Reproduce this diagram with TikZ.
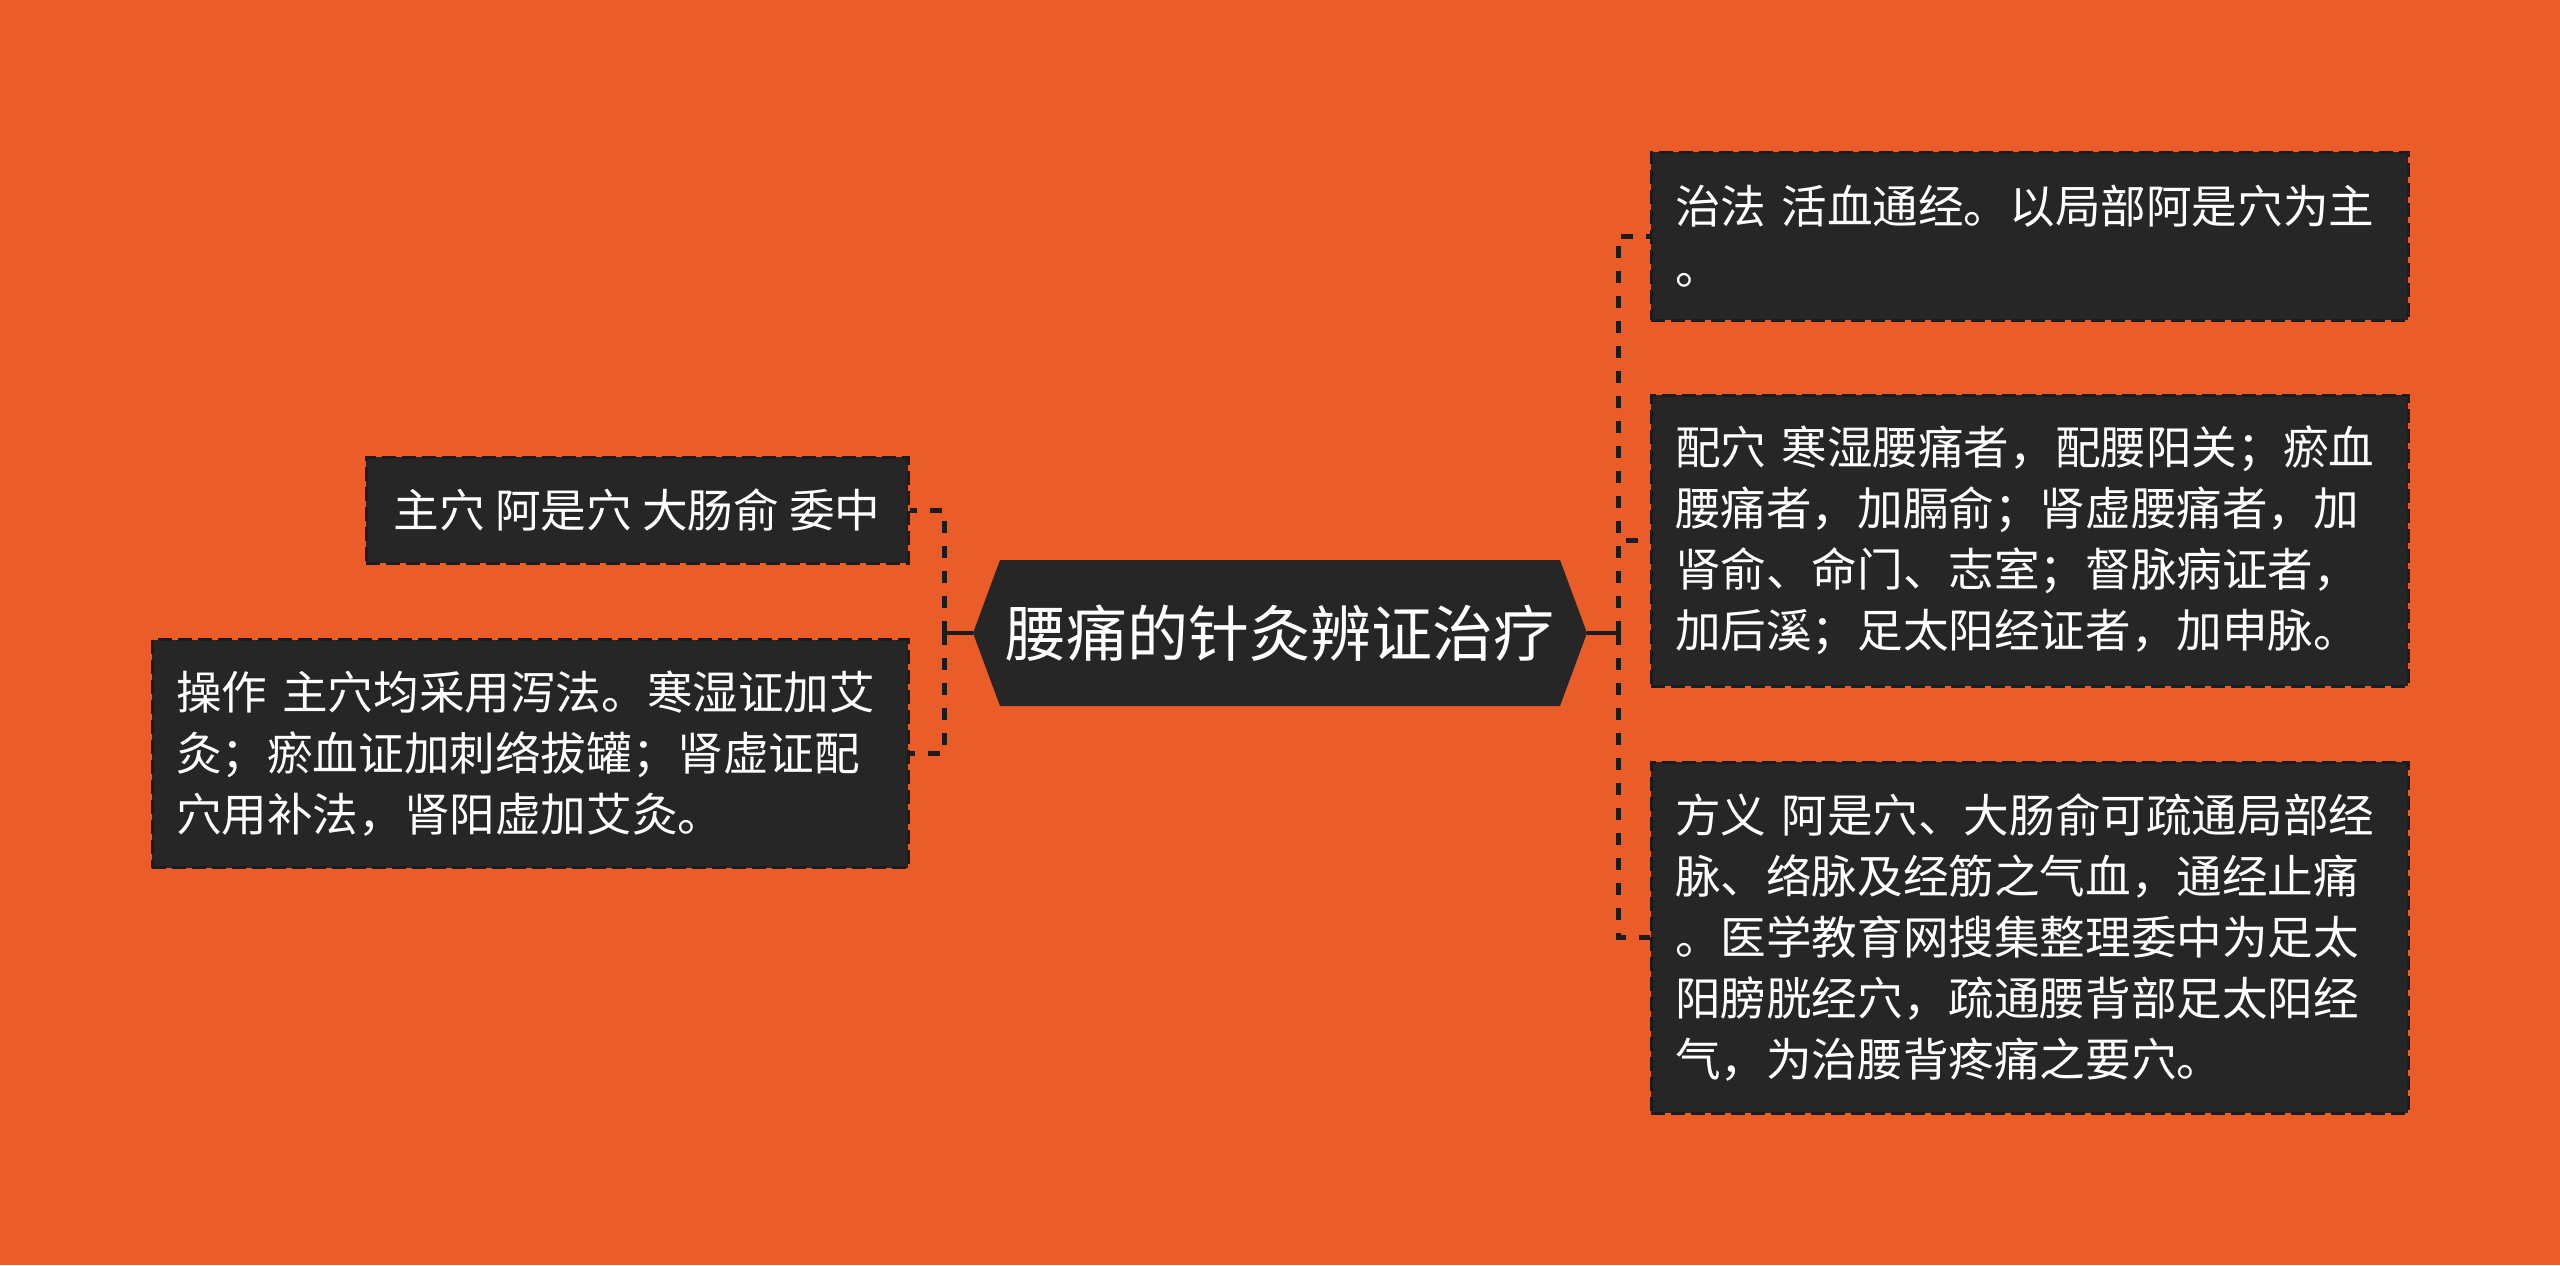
\documentclass[tikz,border=0pt]{standalone}
\usepackage{fontspec}
\setmainfont{Noto Sans CJK SC}
\definecolor{bg}{RGB}{234,92,40}
\definecolor{dk}{RGB}{38,38,38}
\definecolor{ln}{RGB}{28,28,28}
\begin{document}
\begin{tikzpicture}[x=0.5pt,y=-0.5pt,
  box/.style={fill=dk, draw=ln, line width=1.5pt, dash pattern=on 7pt off 3pt,
    text=white, font=\fontsize{22.8pt}{30.5pt}\selectfont, inner xsep=12pt, inner ysep=0pt},
  rbox/.style={box, align=left, minimum width=378.5pt, text width=354.5pt},
  conn/.style={draw=ln, line width=2.5pt, dash pattern=on 6pt off 6.5pt},
  stub/.style={draw=ln, line width=2pt}]
\useasboundingbox (0,0) rectangle (2560,1265);
\fill[bg] (0,0) rectangle (2560,1265);
% central hexagon
\fill[dk] (973,633) -- (1000,560) -- (1560,560) -- (1587,633) -- (1560,706) -- (1000,706) -- cycle;
\node[text=white, font=\fontsize{30.5pt}{36pt}\selectfont, minimum width=307pt,
  minimum height=73pt, inner sep=0pt] (c) at (1280,633) {腰痛的针灸辨证治疗};
% left nodes
\node[box, align=center, minimum width=271pt, minimum height=53pt] (n1) at (637,510)
  {主穴 阿是穴 大肠俞 委中};
\node[box, align=left, minimum width=378pt, text width=354pt, minimum height=114pt] (n2) at (530,753.5)
  {操作 主穴均采用泻法。寒湿证加艾\\灸；瘀血证加刺络拔罐；肾虚证配\\穴用补法，肾阳虚加艾灸。};
% right nodes
\node[rbox, minimum height=84pt] (r1) at (2029.5,236)
  {治法 活血通经。以局部阿是穴为主\\。};
\node[rbox, minimum height=145.5pt] (r2) at (2029.5,540.5)
  {配穴 寒湿腰痛者，配腰阳关；瘀血\\腰痛者，加膈俞；肾虚腰痛者，加\\肾俞、命门、志室；督脉病证者，\\加后溪；足太阳经证者，加申脉。};
\node[rbox, minimum height=175.5pt] (r3) at (2029.5,937.5)
  {方义 阿是穴、大肠俞可疏通局部经\\脉、络脉及经筋之气血，通经止痛\\。医学教育网搜集整理委中为足太\\阳膀胱经穴，疏通腰背部足太阳经\\气，为治腰背疼痛之要穴。};
% connectors
\coordinate (jl) at (944,633);
\coordinate (jr) at (1618,633);
\draw[stub] (c.west) -- (jl);
\draw[conn] (jl) |- (n1.east);
\draw[conn] (jl) |- (n2.east);
\draw[stub] (c.east) -- (jr);
\draw[conn] (jr) |- (r1.west);
\draw[conn] (jr) |- (r2.west);
\draw[conn] (jr) |- (r3.west);
\end{tikzpicture}
\end{document}
